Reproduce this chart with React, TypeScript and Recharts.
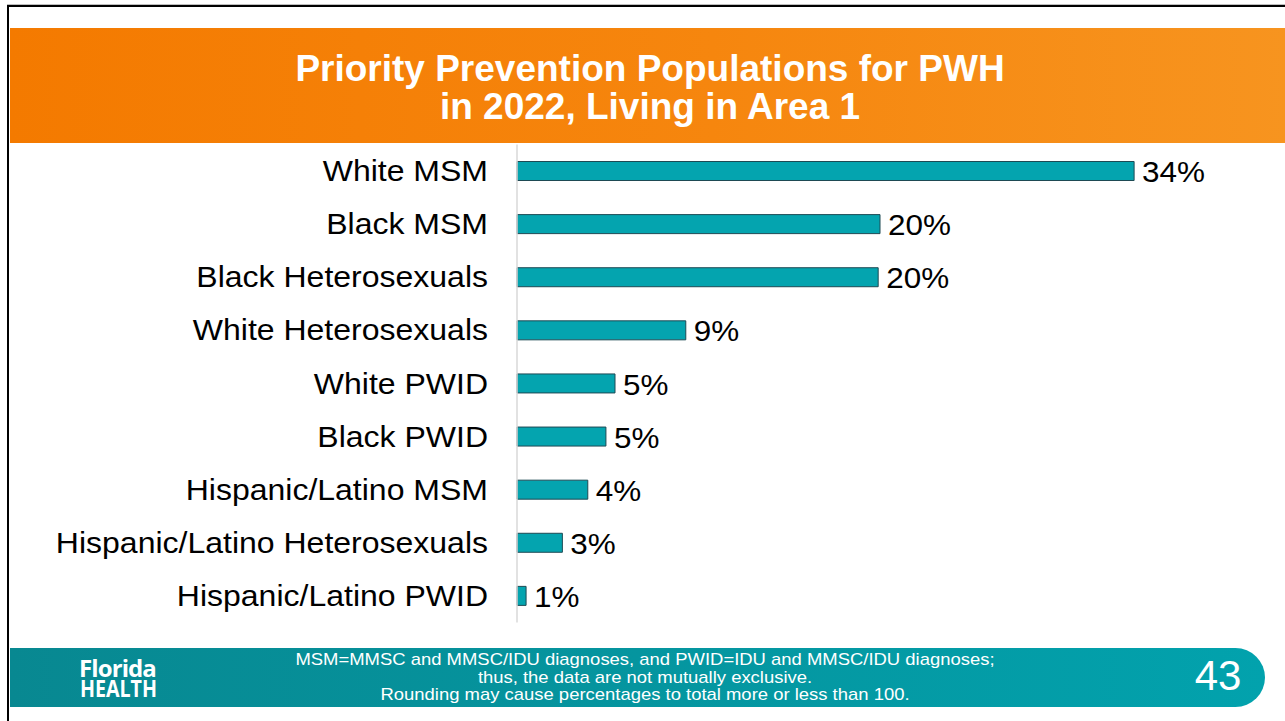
import React from "react";
import { BarChart, Bar, XAxis, YAxis, LabelList } from "recharts";

const categories = [
  "White MSM",
  "Black MSM",
  "Black Heterosexuals",
  "White Heterosexuals",
  "White PWID",
  "Black PWID",
  "Hispanic/Latino MSM",
  "Hispanic/Latino Heterosexuals",
  "Hispanic/Latino PWID",
];
const values = [34.0, 20.0, 19.9, 9.3, 5.4, 4.9, 3.9, 2.5, 0.5];
const valueLabels = ["34%", "20%", "20%", "9%", "5%", "5%", "4%", "3%", "1%"];

const titleLines = ["Priority Prevention Populations for PWH", "in 2022, Living in Area 1"];
const footnoteLines = [
  "MSM=MMSC and MMSC/IDU diagnoses, and PWID=IDU and MMSC/IDU diagnoses;",
  "thus, the data are not mutually exclusive.",
  "Rounding may cause percentages to total more or less than 100.",
];
const logoLines = ["Florida", "HEALTH"];
const pageNumber = "43";

const data = categories.map((c, i) => ({ name: c, value: values[i], label: valueLabels[i] }));

const FONT = "'Liberation Sans', Arial, sans-serif";
const SX = 1.085;

const Tick = (props: any) => {
  const { x, y, payload } = props;
  return (
    <text
      x={x}
      y={y}
      textAnchor="end"
      dominantBaseline="central"
      fontFamily={FONT}
      fontSize={29.5}
      fill="#000"
      transform={`translate(${x},${y}) scale(${SX},1) translate(${-x},${-y})`}
    >
      {payload.value}
    </text>
  );
};

const ValueLabel = (props: any) => {
  const { x, y, width, height, value } = props;
  const tx = Number(x) + Number(width) + 8;
  const ty = Number(y) + Number(height) / 2 + 1;
  return (
    <text
      x={tx}
      y={ty}
      textAnchor="start"
      dominantBaseline="central"
      fontFamily={FONT}
      fontSize={29}
      fill="#000"
      transform={`translate(${tx},${ty}) scale(${SX},1) translate(${-tx},${-ty})`}
    >
      {value}
    </text>
  );
};

export default function App() {
  return (
    <div
      style={{
        position: "absolute",
        left: 0,
        top: 0,
        width: 1285,
        height: 721,
        background: "#fff",
        overflow: "hidden",
        fontFamily: FONT,
      }}
    >
      {/* borders */}
      <div style={{ position: "absolute", left: 7, top: 4, width: 1278, height: 1, background: "#bdbdbd" }} />
      <div style={{ position: "absolute", left: 7, top: 5, width: 1278, height: 2, background: "#000" }} />
      <div style={{ position: "absolute", left: 7, top: 5, width: 2, height: 716, background: "#000" }} />

      {/* header */}
      <div
        style={{
          position: "absolute",
          left: 10,
          top: 28,
          width: 1275,
          height: 115,
          background: "linear-gradient(90deg, #F47A00 0%, #F6860E 55%, #F7941F 100%)",
        }}
      />
      <div
        style={{
          position: "absolute",
          left: 0,
          top: 50,
          width: 1300,
          textAlign: "center",
          color: "#fff",
          fontWeight: "bold",
          fontSize: 37,
          lineHeight: "37.5px",
        }}
      >
        {titleLines.map((t, i) => (
          <div key={i}>{t}</div>
        ))}
      </div>

      {/* chart */}
      <div style={{ position: "absolute", left: 0, top: 0 }}>
        <BarChart
          width={1285}
          height={721}
          data={data}
          layout="vertical"
          margin={{ top: 144.5, right: 42, bottom: 98.5, left: 0 }}
        >
          <XAxis type="number" domain={[0, 40]} hide />
          <YAxis
            type="category"
            dataKey="name"
            width={517}
            tickSize={0}
            tickMargin={29}
            axisLine={{ stroke: "#D9D9D9", strokeWidth: 1.5 }}
            tickLine={false}
            tick={<Tick />}
            interval={0}
          />
          <Bar
            dataKey="value"
            fill="#04A4AF"
            stroke="#1E4A54"
            strokeWidth={1}
            barSize={19}
            isAnimationActive={false}
          >
            <LabelList dataKey="label" content={<ValueLabel />} />
          </Bar>
        </BarChart>
      </div>

      {/* footer */}
      <div
        style={{
          position: "absolute",
          left: 10,
          top: 648,
          width: 1255,
          height: 59,
          borderRadius: "0 30px 30px 0",
          background: "linear-gradient(90deg, #088891 0%, #05959F 50%, #02A2AD 100%)",
        }}
      />
      <svg
        width={100}
        height={60}
        style={{ position: "absolute", left: 79, top: 650, overflow: "visible" }}
      >
        <text fill="#fff" fontFamily="'Open Sans', sans-serif" fontWeight="bold">
          <tspan x={0} y={27} fontSize={24} letterSpacing={-0.9}>
            {logoLines[0]}
          </tspan>
          <tspan x={1} y={47} fontSize={23} textLength={77} lengthAdjust="spacingAndGlyphs">
            {logoLines[1]}
          </tspan>
        </text>
      </svg>
      <div
        style={{
          position: "absolute",
          left: 245,
          top: 651,
          width: 800,
          textAlign: "center",
          color: "#fff",
          fontSize: 17,
          lineHeight: "17.5px",
          transform: `scaleX(${SX})`,
          transformOrigin: "center top",
        }}
      >
        {footnoteLines.map((t, i) => (
          <div key={i}>{t}</div>
        ))}
      </div>
      <div
        style={{
          position: "absolute",
          left: 1188,
          top: 652,
          width: 60,
          textAlign: "center",
          color: "#fff",
          fontSize: 42,
          lineHeight: "48px",
        }}
      >
        {pageNumber}
      </div>
    </div>
  );
}
